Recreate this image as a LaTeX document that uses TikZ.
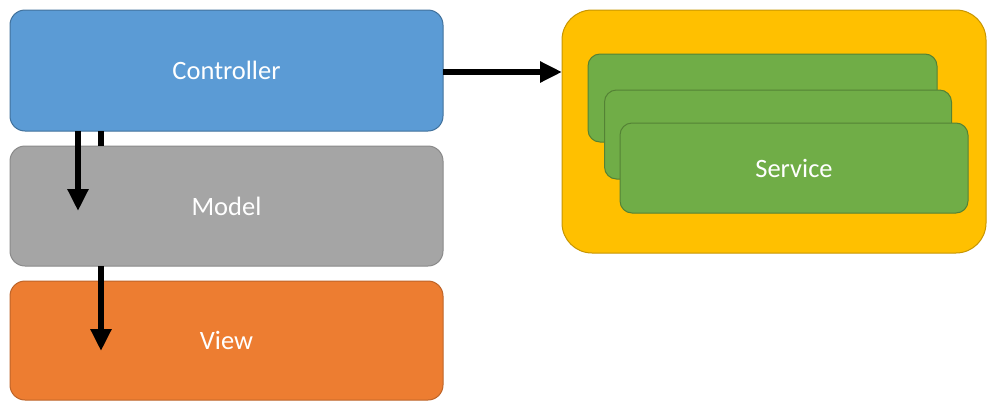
\documentclass[tikz,border=0pt]{standalone}
\usepackage{fontspec}
\setmainfont{Carlito}
\usetikzlibrary{arrows.meta}
\definecolor{cblue}{HTML}{5B9BD5}
\definecolor{cblueb}{HTML}{41719C}
\definecolor{cgray}{HTML}{A5A5A5}
\definecolor{cgrayb}{HTML}{8A8A8A}
\definecolor{corange}{HTML}{ED7D31}
\definecolor{corangeb}{HTML}{BE6428}
\definecolor{cyellow}{HTML}{FFC000}
\definecolor{cyellowb}{HTML}{C79500}
\definecolor{cgreen}{HTML}{70AD47}
\definecolor{cgreenb}{HTML}{548235}
\begin{document}
\begin{tikzpicture}[x=1pt,y=-1pt,
  box/.style={rounded corners=15pt, inner sep=0pt, outer sep=0pt, line width=1pt,
    text=white, font=\fontsize{26.5}{30}\selectfont},
  svc/.style={box, rounded corners=12pt, fill=cgreen, draw=cgreenb},
  arr/.style={line width=6pt, -{Triangle[length=22pt,width=20pt]}},
  stub/.style={line width=6pt}
]
\useasboundingbox (0,0) rectangle (987,402);
\node[box, fill=cblue, draw=cblueb, minimum width=433pt, minimum height=121pt] (ctrl) at (226.5,70.5) {Controller};
\node[box, fill=cgray, draw=cgrayb, minimum width=433pt, minimum height=120pt] (model) at (226.5,206) {Model};
\node[box, fill=corange, draw=corangeb, minimum width=433pt, minimum height=119pt] (view) at (226.5,340.5) {View};
\node[box, rounded corners=30pt, fill=cyellow, draw=cyellowb, minimum width=424pt, minimum height=243pt] (cont) at (774,131.5) {};
\node[svc, minimum width=349pt, minimum height=88pt] (s1) at (762.5,98) {};
\node[svc, minimum width=347pt, minimum height=89pt] (s2) at (778,134.5) {};
\node[svc, minimum width=348pt, minimum height=90pt] (s3) at (794,168) {Service};
\coordinate (a1) at (78,211);
\coordinate (k1) at (101,0);
\coordinate (a2) at (101,351);
\draw[arr] (ctrl.south -| a1) -- (a1);
\draw[stub] (ctrl.south -| k1) -- (model.north -| k1);
\draw[arr] (model.south -| a2) -- (a2);
\draw[arr] (ctrl.east |- 0,72) -- (cont.west |- 0,72);
\end{tikzpicture}
\end{document}
